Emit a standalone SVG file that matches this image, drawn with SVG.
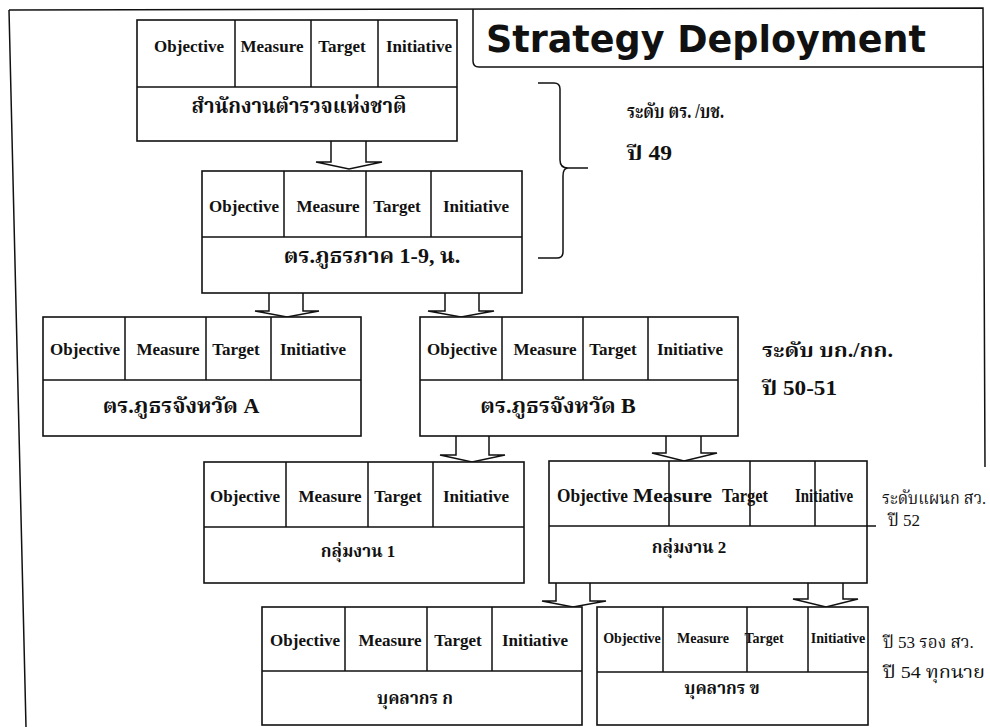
<svg xmlns="http://www.w3.org/2000/svg" width="990" height="727" viewBox="0 0 990 727">
<style>
.box{fill:#fff;stroke:#111;stroke-width:1.6}
.ln{fill:none;stroke:#111;stroke-width:1.5}
.arr{fill:#fff;stroke:#111;stroke-width:1.5;stroke-linejoin:miter}
.h{font-family:"Liberation Serif","Times New Roman",serif;font-weight:bold;font-size:17px;fill:#111;text-anchor:middle}
.hs{font-family:"Liberation Serif","Times New Roman",serif;font-weight:bold;font-size:14px;fill:#111;text-anchor:middle}
.hl{font-family:"Liberation Serif","Times New Roman",serif;font-weight:bold;font-size:18px;fill:#111}
.th{font-family:"Liberation Serif","Noto Serif Thai","Noto Sans Thai","Norasi","Tlwg Typo","Loma",serif;font-weight:bold;font-size:22px;fill:#111;text-anchor:middle}
.ths{font-family:"Liberation Serif","Noto Serif Thai","Noto Sans Thai","Norasi","Tlwg Typo","Loma",serif;font-weight:bold;font-size:17px;fill:#111;text-anchor:middle}
.side{font-family:"Liberation Serif","Noto Serif Thai","Noto Sans Thai","Norasi","Tlwg Typo","Loma",serif;font-weight:bold;font-size:20px;fill:#111}
.sides{font-family:"Liberation Serif","Noto Serif Thai","Noto Sans Thai","Norasi","Tlwg Typo","Loma",serif;font-weight:normal;font-size:17px;fill:#111}
.title{font-family:"DejaVu Sans","Noto Sans",sans-serif;font-weight:bold;font-size:38px;fill:#111}
</style>
<rect width="990" height="727" fill="#fff"/>
<g id="frame">
<path class="ln" d="M9,10 L26,727 M9,10 L983,8 L985,467" stroke-width="2"/>
</g>
<g id="title">
<path class="ln" d="M473,9 V61 Q473,67 479,67 H984" stroke-width="1.8"/>
<text class="title" x="486" y="52" textLength="440" lengthAdjust="spacingAndGlyphs">Strategy Deployment</text>
</g>
<g id="connectors">
<path class="arr" d="M331,141 V162 H316 L349,169 L382,162 H366 V141"/>
<path class="arr" d="M269,293 V311 H255 L287,317 L319,311 H303 V293"/>
<path class="arr" d="M445,293 V311 H428 L461,317 L494,311 H479 V293"/>
<path class="arr" d="M456,436 V455 H440 L472,462 L505,455 H489 V436"/>
<path class="arr" d="M666,436 V453 H652 L684,461 L717,453 H701 V436"/>
<path class="arr" d="M556,583 V601 H542 L573,607 L606,601 H590 V583"/>
<path class="arr" d="M808,583 V599 H793 L826,607 L858,599 H843 V583"/>
<path class="ln" d="M538,83 H554 Q560,83 560,89 V160 Q560,168 568,168 H588 M568,168 Q563,168 563,176 V252 Q563,258 557,258 H538"/>
</g>
<g id="node-national">
<rect class="box" x="137" y="20" width="320" height="121"/>
<path class="ln" d="M137,87 H457 M235,20 V87 M311,20 V87 M378,20 V87"/>
<text class="h" x="189" y="52">Objective</text>
<text class="h" x="272" y="52">Measure</text>
<text class="h" x="342" y="52">Target</text>
<text class="h" x="419" y="52">Initiative</text>
<text class="th" x="299" y="113" textLength="215" lengthAdjust="spacingAndGlyphs">สำนักงานตำรวจแห่งชาติ</text>
</g>
<g id="node-region">
<rect class="box" x="202" y="171" width="320" height="122"/>
<path class="ln" d="M202,237 H522 M284,171 V237 M366,171 V237 M431,171 V237"/>
<text class="h" x="244" y="212">Objective</text>
<text class="h" x="328" y="212">Measure</text>
<text class="h" x="397" y="212">Target</text>
<text class="h" x="476" y="212">Initiative</text>
<text class="th" x="372" y="263">ตร.ภูธรภาค 1-9, น.</text>
</g>
<g id="label-level1">
<text class="side" x="627" y="118" textLength="97" lengthAdjust="spacingAndGlyphs">ระดับ ตร. /บช.</text>
<text class="side" x="627" y="160" textLength="45" lengthAdjust="spacingAndGlyphs">ปี 49</text>
</g>
<g id="node-provA">
<rect class="box" x="43" y="317" width="318" height="119"/>
<path class="ln" d="M43,380 H361 M125,317 V380 M206,317 V380 M271,317 V380"/>
<text class="h" x="85" y="355">Objective</text>
<text class="h" x="168" y="355">Measure</text>
<text class="h" x="236" y="355">Target</text>
<text class="h" x="313" y="355">Initiative</text>
<text class="th" x="181" y="413">ตร.ภูธรจังหวัด A</text>
</g>
<g id="node-provB">
<rect class="box" x="420" y="317" width="318" height="119"/>
<path class="ln" d="M420,380 H738 M502,317 V380 M583,317 V380 M648,317 V380"/>
<text class="h" x="462" y="355">Objective</text>
<text class="h" x="545" y="355">Measure</text>
<text class="h" x="613" y="355">Target</text>
<text class="h" x="690" y="355">Initiative</text>
<text class="th" x="558" y="413">ตร.ภูธรจังหวัด B</text>
</g>
<g id="label-level2">
<text class="side" x="762" y="357" textLength="131" lengthAdjust="spacingAndGlyphs">ระดับ บก./กก.</text>
<text class="side" x="762" y="395" textLength="75" lengthAdjust="spacingAndGlyphs">ปี 50-51</text>
</g>
<g id="node-group1">
<rect class="box" x="204" y="462" width="320" height="121"/>
<path class="ln" d="M204,527 H524 M286,462 V527 M368,462 V527 M433,462 V527"/>
<text class="h" x="245" y="502">Objective</text>
<text class="h" x="330" y="502">Measure</text>
<text class="h" x="398" y="502">Target</text>
<text class="h" x="476" y="502">Initiative</text>
<text class="ths" x="358" y="557">กลุ่มงาน 1</text>
</g>
<g id="node-group2">
<rect class="box" x="549" y="461" width="318" height="122"/>
<path class="ln" d="M549,526 H876 M669,461 V526 M750,461 V526 M815,461 V526"/>
<text class="hl" x="557" y="502" textLength="71" lengthAdjust="spacingAndGlyphs">Objective</text>
<text class="hl" x="633" y="502" textLength="79" lengthAdjust="spacingAndGlyphs">Measure</text>
<text class="hl" x="722" y="502" textLength="46" lengthAdjust="spacingAndGlyphs">Target</text>
<text class="hl" x="795" y="502" textLength="58" lengthAdjust="spacingAndGlyphs">Initiative</text>
<text class="ths" x="689" y="553">กลุ่มงาน 2</text>
</g>
<g id="label-level3">
<text class="sides" x="882" y="504" textLength="104" lengthAdjust="spacingAndGlyphs">ระดับแผนก สว.</text>
<text class="sides" x="888" y="526">ปี 52</text>
</g>
<g id="node-personA">
<rect class="box" x="262" y="607" width="320" height="118"/>
<path class="ln" d="M262,671 H582 M345,607 V671 M427,607 V671 M492,607 V671"/>
<text class="h" x="305" y="646">Objective</text>
<text class="h" x="390" y="646">Measure</text>
<text class="h" x="458" y="646">Target</text>
<text class="h" x="535" y="646">Initiative</text>
<text class="ths" x="415" y="704">บุคลากร ก</text>
</g>
<g id="node-personB">
<rect class="box" x="597" y="607" width="271" height="118"/>
<path class="ln" d="M597,672 H868 M663,607 V672 M747,607 V672 M808,607 V672"/>
<text class="hs" x="632" y="643">Objective</text>
<text class="hs" x="703" y="643">Measure</text>
<text class="hs" x="764" y="643">Target</text>
<text class="hs" x="838" y="643">Initiative</text>
<text class="ths" x="722" y="694" font-size="19">บุคลากร ข</text>
</g>
<g id="label-level4">
<text class="sides" x="883" y="648" font-size="22">ปี 53 รอง สว.</text>
<text class="sides" x="883" y="678" font-size="20" textLength="102" lengthAdjust="spacingAndGlyphs">ปี 54 ทุกนาย</text>
</g>
</svg>
